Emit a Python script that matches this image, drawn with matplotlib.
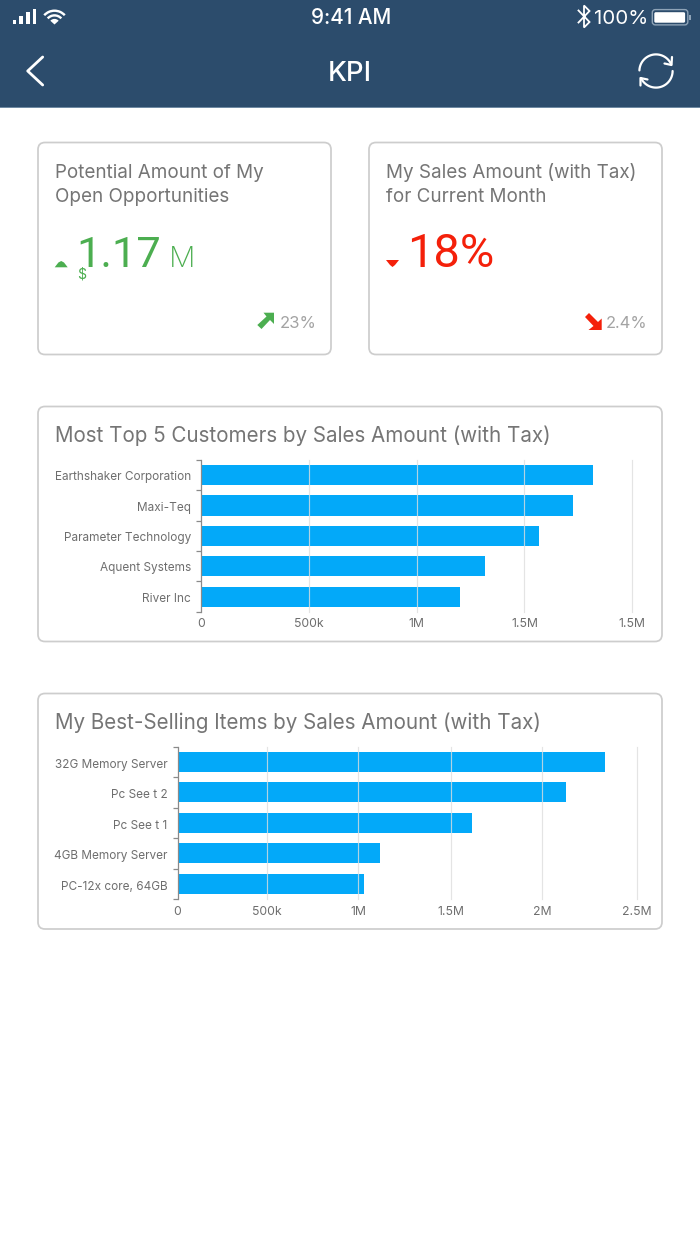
import numpy as np
import matplotlib
matplotlib.use('Agg')
import matplotlib.pyplot as plt
from matplotlib.patches import FancyBboxPatch, Polygon, Rectangle, Wedge
from matplotlib.transforms import ScaledTranslation

plt.rcParams['font.family'] = ['Inter', 'DejaVu Sans']

W, H = 700, 1244

# ---- data ----
customers = ['Earthshaker Corporation', 'Maxi-Teq', 'Parameter Technology', 'Aquent Systems', 'River Inc']
customer_sales = [1.819, 1.725, 1.567, 1.317, 1.201]
customer_ticks = [0, 0.5, 1.0, 1.5, 2.0]
customer_tick_labels = ['0', '500k', '1M', '1.5M', '1.5M']

items = ['32G Memory Server', 'Pc See t 2', 'Pc See t 1', '4GB Memory Server', 'PC-12x core, 64GB']
item_sales = [2.325, 2.114, 1.600, 1.103, 1.012]
item_ticks = [0, 0.487, 0.983, 1.489, 1.984, 2.5]
item_tick_labels = ['0', '500k', '1M', '1.5M', '2M', '2.5M']

# ---- styles ----
NAVY = '#2c4c6c'
GREEN = '#4cae50'
RED = '#f4200a'
BLUE = '#03a9f9'
TITLE = '#757575'
LABEL = '#6e6e6e'
EDGE = '#cdcdcd'
GRID = '#dedede'

fig = plt.figure(figsize=(W / 100, H / 100), dpi=100, facecolor='white')
bg = fig.add_axes([0, 0, 1, 1])
bg.set_xlim(0, W)
bg.set_ylim(H, 0)
bg.axis('off')


def t(x, y, s, px, color='white', ha='left', va='baseline', **kw):
    return bg.text(x, y, s, fontsize=px * 0.72, color=color, ha=ha, va=va, **kw)


def card(x0, y0, x1, y1):
    bg.add_patch(FancyBboxPatch((x0 + 7, y0 + 7), x1 - x0 - 14, y1 - y0 - 14,
                                boxstyle='round,pad=7,rounding_size=7',
                                fc='white', ec=EDGE, lw=1.25))


# header
bg.add_patch(Rectangle((0, 0), W, 108, fc=NAVY, ec='none'))
bg.add_patch(Rectangle((0, 107.2), W, 1, fc='#6f8aa3', ec='none'))
t(351, 24, '9:41 AM', 20.7, ha='center', fontweight='medium')
t(350, 81, 'KPI', 27.5, ha='center', fontweight='medium')
t(594, 24.5, '100%', 20.5)
for x, top in zip([12.5, 19, 25.8, 32.6], [20, 15.7, 11.7, 9]):
    bg.add_patch(Rectangle((x, top), 3.8, 24.3 - top, fc='white', ec='none'))
# wifi
for r, w in [(15, 2.4), (10.3, 2.4)]:
    bg.add_patch(Wedge((54.5, 24.5), r, 180 + 42, 360 - 42, width=w, fc='white', ec='none'))
bg.add_patch(Wedge((54.5, 24.5), 5.6, 180 + 42, 360 - 42, fc='white', ec='none'))
# bluetooth
bg.plot([578.5, 589.5, 584, 584, 589.5, 578.5], [10.5, 22, 27.5, 5.5, 11, 22.5], color='white', lw=1.3,
        solid_joinstyle='miter')
# battery
bg.add_patch(FancyBboxPatch((652.3, 9.6), 35.5, 15.3, boxstyle='round,pad=0,rounding_size=3',
                            fc='none', ec='#8ea3b7', lw=1))
bg.add_patch(FancyBboxPatch((654.3, 12.2), 30.8, 10.5, boxstyle='round,pad=0,rounding_size=1.5',
                            fc='white', ec='none'))
bg.add_patch(Rectangle((689, 15), 1.5, 5, fc='#8ea3b7', ec='none'))
# back chevron
bg.plot([42.7, 27.7, 42.7], [57, 71, 85], color='white', lw=2, solid_capstyle='round', solid_joinstyle='round')
# refresh
cx, cy, rr = 656, 71, 16.6
for a0, a1 in [(-178, -24), (0, 155)]:
    ang = np.radians(np.linspace(a0, a1, 50))
    bg.plot(cx + rr * np.cos(ang), cy + rr * np.sin(ang), color='white', lw=1.6, solid_capstyle='round')
bg.plot([664.5, 671.5, 672], [63.5, 65, 57], color='white', lw=1.6, solid_capstyle='round', solid_joinstyle='round')
bg.plot([647.5, 640.5, 640.5], [79.5, 78, 85.5], color='white', lw=1.6, solid_capstyle='round', solid_joinstyle='round')

# cards
card(38, 142.5, 331, 354.5)
card(369, 142.5, 662, 354.5)
card(38, 406.5, 662, 641.5)
card(38, 693.5, 662, 929)

# KPI cards
KPI_PX = 18.85
t(55, 177.5, 'Potential Amount of My', KPI_PX, TITLE)
t(55, 201.5, 'Open Opportunities', KPI_PX, TITLE)
t(386, 177.5, 'My Sales Amount (with Tax)', KPI_PX, TITLE)
t(386, 201.5, 'for Current Month', KPI_PX, TITLE)

bg.add_patch(Polygon([(54.7, 267.3), (67.7, 267.3), (64, 262.5), (61.2, 261), (58.4, 262.5)], fc=GREEN, ec='none'))
t(76, 267, '1.17', 43.5, GREEN, family='Roboto')
t(168.5, 267, 'M', 29.5, GREEN, fontweight='light')
t(77, 279, '$', 14, GREEN)
bg.add_patch(Polygon([(263.5, 312.7), (274, 312.7), (274, 324), (270, 320), (261.5, 329), (257.3, 325), (266.5, 316.5)],
                     fc=GREEN, ec='none'))
t(280, 328, '23%', 16.7, '#a3a3a3')

bg.add_patch(Polygon([(386, 260), (399, 260), (395, 265), (392.5, 267), (390, 265)], fc=RED, ec='none'))
t(407.5, 267, '18%', 47, RED, family='Roboto')
bg.add_patch(Polygon([(588.5, 330), (601.7, 330), (601.7, 318.5), (598, 322), (589, 313), (585, 317), (593.5, 326)],
                     fc=RED, ec='none'))
t(606, 328, '2.4%', 16.5, '#a3a3a3')

# chart titles
t(55, 441.7, 'Most Top 5 Customers by Sales Amount (with Tax)', 20.6, TITLE)
t(55, 728.7, 'My Best-Selling Items by Sales Amount (with Tax)', 20.6, TITLE)


def bar_chart(x0, x1, y0, y1, xmax, cats, vals, ticks, tick_labels, lab_shift):
    ax = fig.add_axes([x0 / W, 1 - y1 / H, (x1 - x0) / W, (y1 - y0) / H])
    ax.patch.set_alpha(0)
    pos = np.arange(len(cats))
    ax.barh(pos, vals, height=0.66, color=BLUE, zorder=2)
    ax.set_xlim(0, xmax)
    ax.set_ylim(len(cats) - 0.5, -0.5)
    for s in ['top', 'right', 'bottom']:
        ax.spines[s].set_visible(False)
    ax.spines['left'].set_color('#8a8a8a')
    ax.spines['left'].set_linewidth(0.9)
    ax.set_yticks(pos)
    ax.set_yticklabels(cats, fontsize=11.8 * 0.72, color=LABEL)
    ax.tick_params(axis='y', which='major', length=0, pad=7.3)
    off = ScaledTranslation(0, -lab_shift / 100, fig.dpi_scale_trans)
    for lab in ax.get_yticklabels():
        lab.set_transform(lab.get_transform() + off)
    ax.set_yticks(np.arange(len(cats) + 1) - 0.5, minor=True)
    ax.tick_params(axis='y', which='minor', length=3.4, width=0.9, color='#8a8a8a')
    ax.set_xticks(ticks)
    ax.set_xticklabels(tick_labels, fontsize=12.2 * 0.72, color=LABEL)
    ax.tick_params(axis='x', length=0, pad=4.8)
    for v in ticks[1:]:
        ax.axvline(v, color=GRID, lw=0.85, alpha=0.8, zorder=3, clip_on=False)
    return ax


bar_chart(201, 632.3, 460, 611.7, 2.0, customers, customer_sales, customer_ticks, customer_tick_labels, 0.8)
bar_chart(177.5, 637.3, 746.7, 899, 2.5, items, item_sales, item_ticks, item_tick_labels, 1.5)

fig.savefig('out.png', dpi=100, facecolor='white')
